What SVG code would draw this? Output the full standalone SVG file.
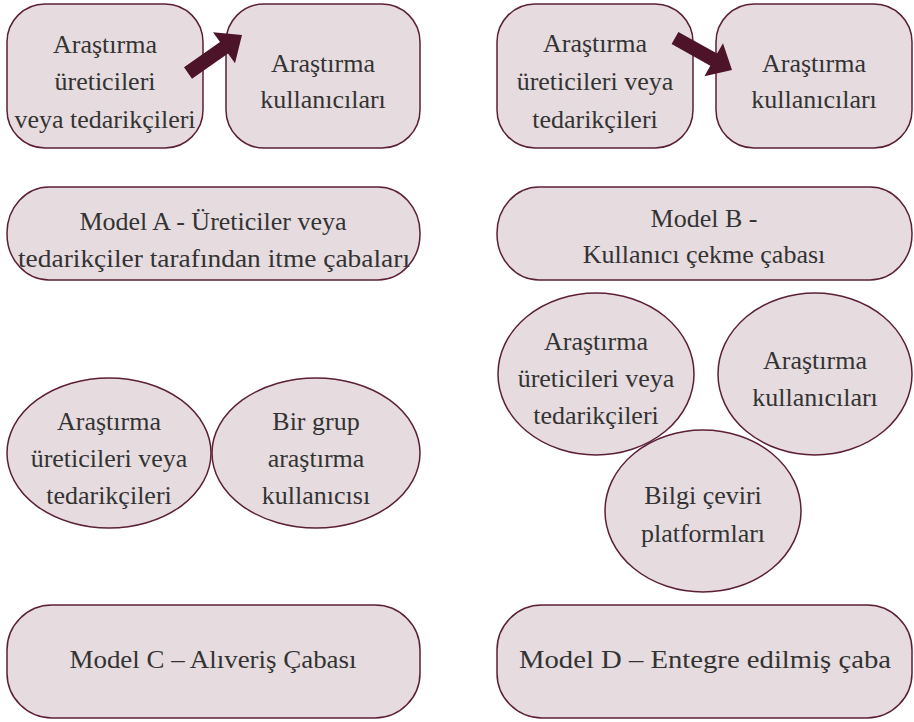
<svg xmlns="http://www.w3.org/2000/svg" width="914" height="722" viewBox="0 0 914 722">
<style>
.n{fill:#e6dcdf;stroke:#5b1f38;stroke-width:1.5}
.t{font-family:"Liberation Serif","DejaVu Serif",serif;font-size:26px;fill:#333;text-anchor:middle}
.a{fill:#4d1329}
</style>
<rect width="914" height="722" fill="#fff"/>
<g id="a-prod"><rect class="n" x="7" y="4" width="196" height="144" rx="38"/>
<text class="t" x="105" y="53">Araştırma</text><text class="t" x="105" y="90">üreticileri</text><text class="t" x="105" y="128">veya tedarikçileri</text></g>
<g id="a-user"><rect class="n" x="226" y="4" width="194" height="144" rx="38"/>
<text class="t" x="323" y="72">Araştırma</text><text class="t" x="323" y="108">kullanıcıları</text></g>
<g id="b-prod"><rect class="n" x="497" y="4" width="196" height="144" rx="38"/>
<text class="t" x="595" y="52">Araştırma</text><text class="t" x="595" y="90">üreticileri veya</text><text class="t" x="595" y="128">tedarikçileri</text></g>
<g id="b-user"><rect class="n" x="716" y="4" width="196" height="144" rx="38"/>
<text class="t" x="814" y="72">Araştırma</text><text class="t" x="814" y="108">kullanıcıları</text></g>
<g id="model-a"><rect class="n" x="7" y="187" width="413" height="93" rx="42" ry="46"/>
<text class="t" x="213" y="230">Model A - Üreticiler veya</text><text class="t" x="214" y="267" textLength="392" lengthAdjust="spacingAndGlyphs">tedarikçiler tarafından itme çabaları</text></g>
<g id="model-b"><rect class="n" x="497" y="187" width="415" height="93" rx="42" ry="46"/>
<text class="t" x="704" y="227">Model B -</text><text class="t" x="704" y="263">Kullanıcı çekme çabası</text></g>
<g id="c-prod"><ellipse class="n" cx="109" cy="453" rx="102" ry="75"/>
<text class="t" x="109" y="430">Araştırma</text><text class="t" x="109" y="467">üreticileri veya</text><text class="t" x="109" y="504">tedarikçileri</text></g>
<g id="c-user"><ellipse class="n" cx="316" cy="453" rx="104" ry="75"/>
<text class="t" x="316" y="430">Bir grup</text><text class="t" x="316" y="467">araştırma</text><text class="t" x="316" y="504">kullanıcısı</text></g>
<g id="d-prod"><ellipse class="n" cx="596" cy="374" rx="98" ry="81"/>
<text class="t" x="596" y="350">Araştırma</text><text class="t" x="596" y="387">üreticileri veya</text><text class="t" x="596" y="424">tedarikçileri</text></g>
<g id="d-user"><ellipse class="n" cx="815" cy="374" rx="97" ry="81"/>
<text class="t" x="815" y="369">Araştırma</text><text class="t" x="815" y="406">kullanıcıları</text></g>
<g id="d-platform"><ellipse class="n" cx="703" cy="511" rx="98" ry="81"/>
<text class="t" x="703" y="504">Bilgi çeviri</text><text class="t" x="703" y="542">platformları</text></g>
<g id="model-c"><rect class="n" x="7" y="605" width="413" height="113" rx="45"/>
<text class="t" x="213" y="668" textLength="287" lengthAdjust="spacingAndGlyphs">Model C – Alıveriş Çabası</text></g>
<g id="model-d"><rect class="n" x="497" y="605" width="415" height="113" rx="45"/>
<text class="t" x="705" y="668" textLength="372" lengthAdjust="spacingAndGlyphs">Model D – Entegre edilmiş çaba</text></g>
<g id="connectors">
<polygon class="a" points="184,67.3 220,42 213,32.2 242,35 235,63.2 228,53.4 192,78.7"/>
<polygon class="a" points="678.4,31.9 717.1,53.6 723,43.2 732,70 704.4,76.2 710.3,65.8 671.6,44.1"/>
</g>
</svg>
